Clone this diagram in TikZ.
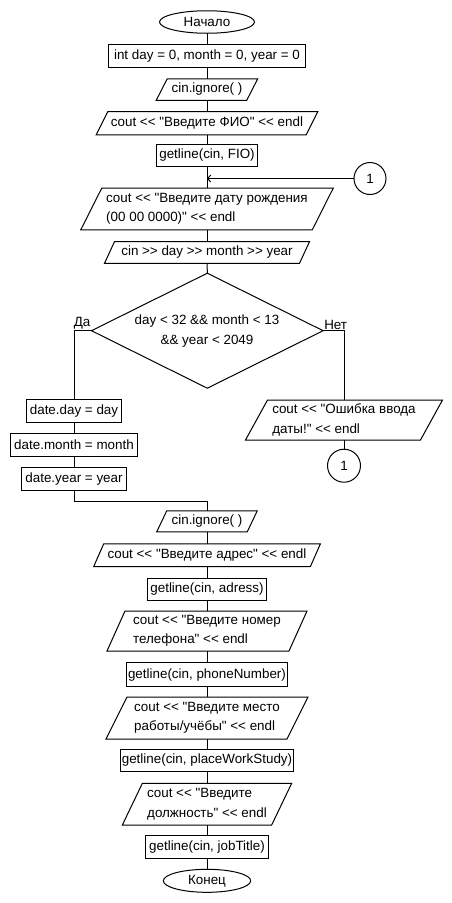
\documentclass[tikz,border=0pt]{standalone}
\usepackage{fontspec}
\setmainfont{Liberation Sans}[Ligatures=TeXOff]
\usetikzlibrary{shapes.geometric,arrows.meta}
\newcommand\pgram[7]{%
  \node[iotext, minimum width=#4pt, minimum height=#5pt] (#1) at (#2,#3) {#7};
  \draw[line] ([xshift=#6pt/2]#1.north west) -- ([xshift=#6pt/2]#1.north east)
    -- ([xshift=-#6pt/2]#1.south east) -- ([xshift=-#6pt/2]#1.south west) -- cycle;
}
\begin{document}
\begin{tikzpicture}[x=1pt,y=-1pt,
  line/.style={draw=black, line width=1pt},
  txt/.style={font=\fontsize{13.4}{19.3}\selectfont, text=black},
  proc/.style={txt, line, rectangle, inner sep=0pt, outer sep=0pt},
  iotext/.style={txt, rectangle, inner sep=0pt, outer sep=0pt, align=left},
  term/.style={txt, line, ellipse, inner sep=0pt, outer sep=0pt},
  conn/.style={txt, line, circle, inner sep=0pt, outer sep=0pt, minimum size=32pt},
  decis/.style={line, diamond, inner sep=0pt, outer sep=0pt},
  lab/.style={txt, inner sep=1pt},
  flow/.style={line},
  barb/.style={line, -{Straight Barb[length=3pt,width=7pt]}}
]
\useasboundingbox (0,0) rectangle (452,903);
\fill[white] (0,0) rectangle (452,903);

\node[term, minimum width=95pt, minimum height=22.5pt] (start) at (207,22) {Начало};
\node[proc, minimum width=197pt, minimum height=23pt] (init) at (207,55.7) {int day = 0, month = 0, year = 0};
\pgram{ign1}{207}{89.5}{90.5}{21.5}{11}{cin.ignore( )}
\pgram{fio}{207}{123.3}{210}{23.3}{11.7}{cout << "Введите ФИО" << endl}
\node[proc, minimum width=100.7pt, minimum height=22pt] (gl1) at (207,155) {getline(cin, FIO)};
\node[conn] (c1) at (370,178.5) {1};
\pgram{date}{207}{209}{231.5}{41.7}{21}{cout << "Введите дату рождения\\(00 00 0000)" << endl}
\pgram{cin}{207}{252.5}{195}{21.7}{10}{cin >> day >> month >> year}
\node[decis, minimum width=231.6pt, minimum height=115pt] (dia) at (207.3,330.7) {};
\node[txt, align=center, inner sep=0pt] (dtext) at (207,331) {day < 32 \&\& month < 13\\\&\& year < 2049};
\node[proc, minimum width=94.3pt, minimum height=23pt] (dday) at (74,410.8) {date.day = day};
\node[proc, minimum width=126.3pt, minimum height=23.3pt] (dmonth) at (74,445) {date.month = month};
\node[proc, minimum width=105pt, minimum height=22.7pt] (dyear) at (74,478.7) {date.year = year};
\pgram{err}{344}{420}{175}{40}{22}{cout << "Ошибка ввода\\даты!" << endl}
\node[conn, minimum size=33pt] (c2) at (344,465.7) {1};
\pgram{ign2}{207}{521.3}{90.5}{21}{10}{cin.ignore( )}
\pgram{addr}{207}{555.3}{216.7}{22.7}{10}{cout << "Введите адрес" << endl}
\node[proc, minimum width=118.3pt, minimum height=21.7pt] (gl2) at (207,589.2) {getline(cin, adress)};
\pgram{phone}{207}{631}{182}{40}{18}{cout << "Введите номер\\телефона" << endl}
\node[proc, minimum width=160.6pt, minimum height=23.5pt] (gl3) at (207,674.6) {getline(cin, phoneNumber)};
\pgram{place}{207}{718}{181}{42}{21}{cout << "Введите место\\работы/учёбы" << endl}
\node[proc, minimum width=173.3pt, minimum height=22.4pt] (gl4) at (207,760.5) {getline(cin, placeWorkStudy)};
\pgram{job}{207}{804.2}{149.3}{41.7}{20}{cout << "Введите\\должность" << endl}
\node[proc, minimum width=123.6pt, minimum height=23.3pt] (gl5) at (207,846.7) {getline(cin, jobTitle)};
\node[term, minimum width=87.4pt, minimum height=23pt] (stop) at (207,880.8) {Конец};

\node[lab, anchor=south east] (lda) at (dia.west) {Да};
\node[lab, anchor=south west] (lnet) at (dia.east) {Нет};

\coordinate (j1) at (gl1.south |- c1.west);

\draw[flow] (start) -- (init);
\draw[flow] (init) -- (ign1);
\draw[flow] (ign1) -- (fio);
\draw[flow] (fio) -- (gl1);
\draw[flow] (gl1) -- (date);
\draw[barb] (c1) -- (j1);
\draw[flow] (date) -- (cin);
\draw[flow] (cin) -- (dia.north);
\draw[flow] (dia.west) -| (dday.north);
\draw[flow] (dday) -- (dmonth);
\draw[flow] (dmonth) -- (dyear);
\draw[flow] (dia.east) -| (err.north);
\draw[flow] (err) -- (c2);
\draw[flow] (dyear.south) -- ++(0,11.5) -| (ign2.north);
\draw[flow] (ign2) -- (addr);
\draw[flow] (addr) -- (gl2);
\draw[flow] (gl2) -- (phone);
\draw[flow] (phone) -- (gl3);
\draw[flow] (gl3) -- (place);
\draw[flow] (place) -- (gl4);
\draw[flow] (gl4) -- (job);
\draw[flow] (job) -- (gl5);
\draw[flow] (gl5) -- (stop);
\end{tikzpicture}
\end{document}
